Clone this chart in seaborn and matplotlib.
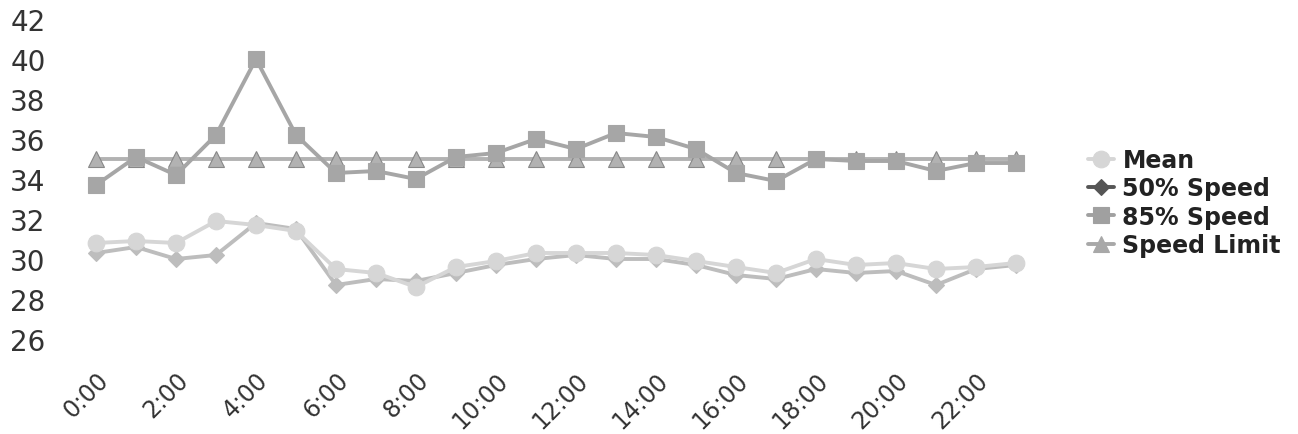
import pandas as pd
import matplotlib
matplotlib.use("Agg")
import matplotlib.pyplot as plt
import seaborn as sns

# hourly speed survey values
hours = list(range(24))
hour_labels = [f"{h}:00" for h in hours]

mean_speed = [30.8, 30.9, 30.8, 31.9, 31.7, 31.4, 29.5, 29.3, 28.6, 29.6, 29.9, 30.3,
              30.3, 30.3, 30.2, 29.9, 29.6, 29.3, 30.0, 29.7, 29.8, 29.5, 29.6, 29.8]
speed_50 = [30.3, 30.6, 30.0, 30.2, 31.8, 31.5, 28.7, 29.0, 28.9, 29.3, 29.7, 30.0,
            30.2, 30.0, 30.0, 29.7, 29.2, 29.0, 29.5, 29.3, 29.4, 28.7, 29.5, 29.7]
speed_85 = [33.7, 35.1, 34.2, 36.2, 40.0, 36.2, 34.3, 34.4, 34.0, 35.1, 35.3, 36.0,
            35.5, 36.3, 36.1, 35.5, 34.3, 33.9, 35.0, 34.9, 34.9, 34.4, 34.8, 34.8]
speed_limit = [35] * 24

series_names = ["Mean", "50% Speed", "85% Speed", "Speed Limit"]
y_ticks = list(range(26, 43, 2))

# long-form table for seaborn
df = pd.concat([
    pd.DataFrame({"hour": hours, "speed": vals, "series": name})
    for name, vals in zip(series_names, [mean_speed, speed_50, speed_85, speed_limit])
], ignore_index=True)

# plot colours (the scan washes the lower lines out) and legend colours
palette = {
    "Mean": "#d6d6d6",
    "50% Speed": "#bdbdbd",
    "85% Speed": "#a6a6a6",
    "Speed Limit": "#b2b2b2",
}
legend_colors = {
    "Mean": "#d6d6d6",
    "50% Speed": "#555555",
    "85% Speed": "#a0a0a0",
    "Speed Limit": "#a8a8a8",
}
markers = {"Mean": "o", "50% Speed": "D", "85% Speed": "s", "Speed Limit": "^"}
marker_sizes = {"Mean": 12, "50% Speed": 8, "85% Speed": 12, "Speed Limit": 12}

sns.set_style("white")
plt.rcParams["font.family"] = ["DejaVu Sans"]

fig = plt.figure(figsize=(12.98, 4.35), dpi=100)
ax = fig.add_axes([70 / 1298, 75 / 435, 970 / 1298, 360 / 435])

# draw speed limit and 85% first so the low series sit on top where they cross
order = ["Speed Limit", "85% Speed", "50% Speed", "Mean"]
for name in order:
    sub = df[df["series"] == name]
    sns.lineplot(
        data=sub, x="hour", y="speed",
        color=palette[name], marker=markers[name],
        markersize=marker_sizes[name],
        markeredgecolor="#888888" if name == "Speed Limit" else palette[name],
        markeredgewidth=0.8,
        linewidth=2.8, ax=ax, label=name,
    )

ax.set_xlim(-0.65, 23.6)
ax.set_ylim(25, 43)
ax.set_yticks(y_ticks)
ax.set_xticks(hours[::2])
ax.set_xticklabels(hour_labels[::2], rotation=45, ha="right", rotation_mode="anchor")
ax.tick_params(axis="y", labelsize=20, labelcolor="#333333", length=0, pad=43)
ax.tick_params(axis="x", labelsize=17, labelcolor="#333333", length=0, pad=6)
for lbl in ax.get_yticklabels():
    lbl.set_horizontalalignment("left")
ax.set_xlabel("")
ax.set_ylabel("")
sns.despine(ax=ax, left=True, bottom=True)

# legend to the right, in the reference order
handles, labels = ax.get_legend_handles_labels()
lookup = dict(zip(labels, handles))
leg = ax.legend(
    [lookup[n] for n in series_names], series_names,
    loc="center left", bbox_to_anchor=(1.04, 0.435),
    frameon=False, handlelength=1.1, handletextpad=0.35,
    labelspacing=0.18, borderaxespad=0,
    prop={"weight": "bold", "size": 17},
)
for h, n in zip(leg.legend_handles, series_names):
    h.set_color(legend_colors[n])
    h.set_markerfacecolor(legend_colors[n])
    h.set_markeredgecolor(legend_colors[n])
for t in leg.get_texts():
    t.set_color("#222222")

fig.savefig("out.png", dpi=100)
plt.close(fig)
